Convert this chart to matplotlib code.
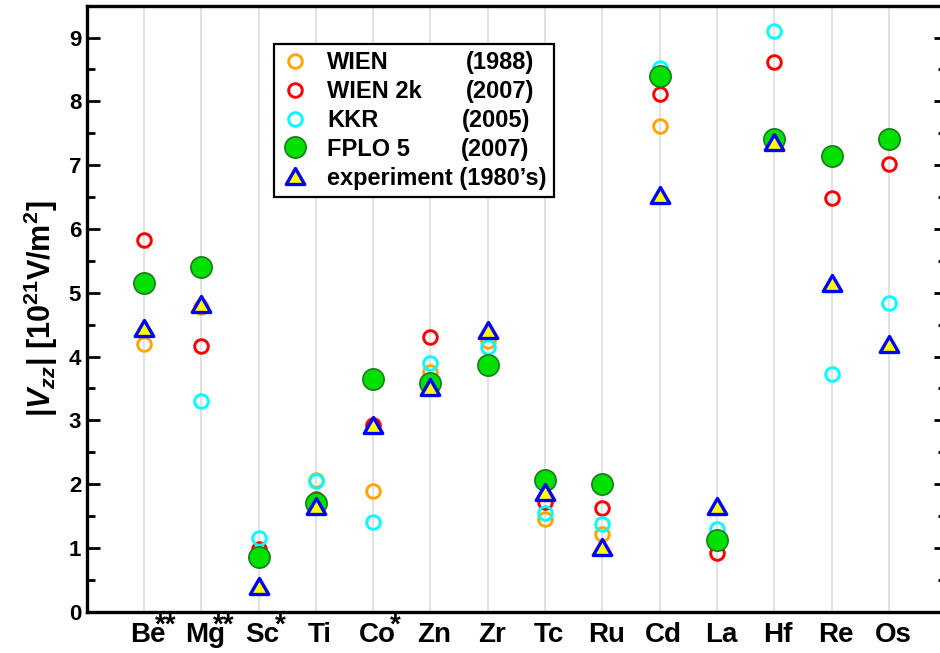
import numpy as np
import matplotlib
matplotlib.use("Agg")
import matplotlib.pyplot as plt
from matplotlib.path import Path
from matplotlib.markers import MarkerStyle
from matplotlib.ticker import MultipleLocator
import matplotlib.transforms as mtransforms

nan = np.nan
elements = ['Be', 'Mg', 'Sc', 'Ti', 'Co', 'Zn', 'Zr', 'Tc', 'Ru', 'Cd', 'La', 'Hf', 'Re', 'Os']
element_marks = ['**', '**', '*', '', '*', '', '', '', '', '', '', '', '', '']

wien_1988 = [4.20, 4.78, nan, 2.07, 1.90, 3.76, 4.25, 1.46, 1.22, 7.62, nan, nan, nan, nan]
wien2k_2007 = [5.82, 4.17, 0.99, 1.77, 2.93, 4.30, nan, 1.72, 1.62, 8.11, 0.92, 8.62, 6.48, 7.02]
kkr_2005 = [nan, 3.30, 1.15, 2.05, 1.40, 3.90, 4.15, 1.54, 1.37, 8.53, 1.30, 9.10, 3.73, 4.84]
fplo5_2007 = [5.15, 5.41, 0.86, 1.70, 3.65, 3.58, 3.86, 2.06, 2.00, 8.40, 1.13, 7.41, 7.14, 7.41]
experiment = [4.44, 4.82, 0.41, 1.65, 2.93, 3.52, 4.42, 1.87, 1.01, 6.53, 1.66, 7.36, 5.15, 4.19]

series_names = ['WIEN', 'WIEN 2k', 'KKR', 'FPLO 5', 'experiment (1980\u2019s)']
series_years = ['(1988)', '(2007)', '(2005)', '(2007)', '']

plt.rcParams['font.family'] = ['Liberation Sans', 'DejaVu Sans']
plt.rcParams['font.weight'] = 'bold'
plt.rcParams['mathtext.fontset'] = 'custom'
plt.rcParams['mathtext.rm'] = 'Liberation Sans:bold'
plt.rcParams['mathtext.bf'] = 'Liberation Sans:bold'
plt.rcParams['mathtext.it'] = 'Liberation Sans:italic:bold'

W, H = 940, 653
fig = plt.figure(figsize=(W / 100, H / 100), dpi=100)
ax = fig.add_axes([86.7 / W, 1 - 611.7 / H, 859.5 / W, 606 / H])

x = np.arange(1, len(elements) + 1)

tri = Path([(-1, -0.866), (1, -0.866), (0, 0.866), (-1, -0.866)],
           [Path.MOVETO, Path.LINETO, Path.LINETO, Path.CLOSEPOLY])
tri_marker = MarkerStyle(tri, joinstyle='miter')

h1, = ax.plot(x, wien_1988, 'o', ms=9.8, mfc='none', mec='#FFA500', mew=2.1, zorder=3, ls='none')
h2, = ax.plot(x, wien2k_2007, 'o', ms=9.8, mfc='none', mec='#FF0000', mew=2.1, zorder=4, ls='none')
h3, = ax.plot(x, kkr_2005, 'o', ms=9.8, mfc='none', mec='#00FFFF', mew=2.1, zorder=5, ls='none')
h4, = ax.plot(x, fplo5_2007, 'o', ms=15.3, mfc='#00E000', mec='#1E7A1E', mew=1.2, zorder=6, ls='none')
h5, = ax.plot(x, experiment, marker=tri_marker, ms=13.3, mfc='#FFFF00', mec='#0000FF', mew=2.4,
              zorder=7, ls='none')

ax.set_xlim(0, 15)
ax.set_ylim(0, 9.5)
ax.set_xticks(x)
ax.set_xticklabels([])
ax.tick_params(axis='x', length=0, labelbottom=False)
ax.grid(axis='x', color='#dadada', lw=1.1, zorder=0)
ax.set_axisbelow(True)

ax.yaxis.set_major_locator(MultipleLocator(1))
ax.yaxis.set_minor_locator(MultipleLocator(0.5))
ax.tick_params(axis='y', which='both', direction='in', left=True, right=True, width=2.0)
ax.tick_params(axis='y', which='major', length=9, labelsize=16, pad=4)
ax.tick_params(axis='y', which='minor', length=5.5)
for lbl in ax.get_yticklabels():
    lbl.set_fontweight('bold')

for s in ax.spines.values():
    s.set_linewidth(2.4)
    s.set_color('black')

ax.set_ylabel(r'|$V_{zz}$| [10$^{21}$V/m$^2$]', fontsize=22, fontweight='bold', labelpad=6)

# category labels with superscript marks
base = ax.get_xaxis_transform()
lab_tr = mtransforms.offset_copy(base, fig=fig, x=4, y=0, units='dots')
mark_tr = mtransforms.offset_copy(base, fig=fig, x=22, y=9.5, units='dots')
for xi, name, mk in zip(x, elements, element_marks):
    ax.text(xi, -0.0495, name, transform=lab_tr, ha='center', va='baseline',
            fontsize=20, fontweight='bold')
    if mk:
        ax.text(xi, -0.0495, mk, transform=mark_tr, ha='center', va='baseline',
                fontsize=20, fontweight='bold')

leg = ax.legend([h1, h2, h3, h4, h5], series_names, loc='upper left',
                bbox_to_anchor=(0.218, 0.937), borderaxespad=0,
                prop={'weight': 'bold', 'size': 17}, frameon=True, fancybox=False,
                framealpha=1, edgecolor='black', handlelength=1.2, handletextpad=0.75,
                labelspacing=0.25, borderpad=0.3, numpoints=1)
leg.get_frame().set_linewidth(1.6)
leg.set_zorder(10)

fig.canvas.draw()
year_x = [466, 466, 462, 461]
for txt, yr, xp in zip(leg.get_texts(), series_years, year_x):
    if not yr:
        continue
    bb = txt.get_window_extent()
    fig.text(xp / W, (bb.y0 + bb.y1) / 2 / H, yr, ha='left', va='center',
             fontsize=17, fontweight='bold', zorder=11)

fig.savefig('out.png', dpi=100)
